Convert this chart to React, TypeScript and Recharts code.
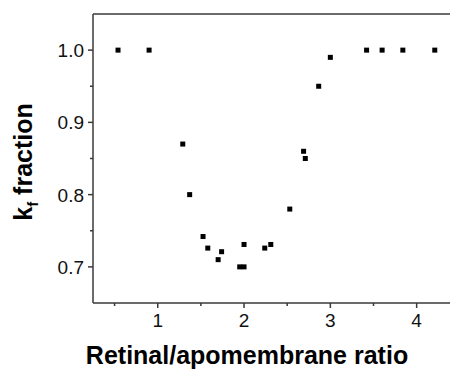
import React from 'react';
import { ScatterChart, Scatter, XAxis, YAxis, ReferenceLine, Label } from 'recharts';

const ratio = [0.54, 0.9, 1.29, 1.37, 1.525, 1.58, 1.7, 1.74, 1.95, 2.0, 2.0, 2.24, 2.31, 2.53, 2.69, 2.71, 2.865, 3.0, 3.42, 3.6, 3.84, 4.21];
const kfFraction = [1.0, 1.0, 0.87, 0.8, 0.742, 0.726, 0.71, 0.721, 0.7, 0.7, 0.731, 0.726, 0.731, 0.78, 0.86, 0.85, 0.95, 0.99, 1.0, 1.0, 1.0, 1.0];

const xTicks = [0.5, 1, 1.5, 2, 2.5, 3, 3.5, 4, 4.5];
const yTicks = [0.7, 0.75, 0.8, 0.85, 0.9, 0.95, 1.0];
const xMajor = [1, 2, 3, 4];
const yMajor = [0.7, 0.8, 0.9, 1.0];

const data = ratio.map((r, i) => ({ x: r, y: kfFraction[i] }));

const AXIS = '#3a3a3a';
const FONT = '"Liberation Sans", Arial, sans-serif';

const XTick = (props: any) => {
  const { x, y, payload } = props;
  const major = xMajor.includes(payload.value);
  return (
    <g>
      <line x1={x} x2={x} y1={y} y2={y + (major ? 5 : 3)} stroke={AXIS} strokeWidth={1.5} />
      {major && (
        <text x={x} y={y + 24} textAnchor="middle" fontSize={19} fill="#111" fontFamily={FONT}>
          {payload.value}
        </text>
      )}
    </g>
  );
};

const YTick = (props: any) => {
  const { x, y, payload } = props;
  const major = yMajor.includes(payload.value);
  return (
    <g>
      <line x1={x - (major ? 5 : 3)} x2={x} y1={y} y2={y} stroke={AXIS} strokeWidth={1.5} />
      {major && (
        <text x={x - 9} y={y + 7} textAnchor="end" fontSize={19} fill="#111" fontFamily={FONT}>
          {payload.value.toFixed(1)}
        </text>
      )}
    </g>
  );
};

const Square = (props: any) => {
  const { cx, cy } = props;
  return <rect x={cx - 2.5} y={cy - 2.5} width={5} height={5} fill="#000" />;
};

const App = () => (
  <div style={{ width: 450, height: 361, overflow: 'hidden' }}>
    <ScatterChart width={460} height={361} margin={{ top: 6, right: 0, left: 0, bottom: 0 }}>
      <XAxis
        type="number"
        dataKey="x"
        domain={[0.25, 4.595]}
        ticks={xTicks}
        allowDataOverflow
        height={66}
        stroke={AXIS}
        strokeWidth={1.5}
        tickLine={false}
        tickSize={0}
        tickMargin={0}
        tick={<XTick />}
        interval={0}
      >
        <Label
          content={() => (
            <text x={239} y={356} textAnchor="middle" fontSize={25} fontWeight="bold" fill="#000" fontFamily={FONT}>
              Retinal/apomembrane ratio
            </text>
          )}
        />
      </XAxis>
      <YAxis
        type="number"
        dataKey="y"
        domain={[0.65, 1.05]}
        ticks={yTicks}
        allowDataOverflow
        width={85}
        stroke={AXIS}
        strokeWidth={1.5}
        tickLine={false}
        tickSize={0}
        tickMargin={0}
        tick={<YTick />}
        interval={0}
      >
        <Label
          content={() => (
            <text
              transform="translate(24,154) rotate(-90)"
              textAnchor="middle"
              fontSize={25}
              fontWeight="bold"
              fill="#000"
              fontFamily={FONT}
            >
              <tspan>k</tspan>
              <tspan fontSize={15} dy={6}>f</tspan>
              <tspan dy={-6}> fraction</tspan>
            </text>
          )}
        />
      </YAxis>
      <ReferenceLine y={1.05} stroke={AXIS} strokeWidth={1.5} />
      <Scatter data={data} shape={<Square />} isAnimationActive={false} />
    </ScatterChart>
  </div>
);

export default App;
